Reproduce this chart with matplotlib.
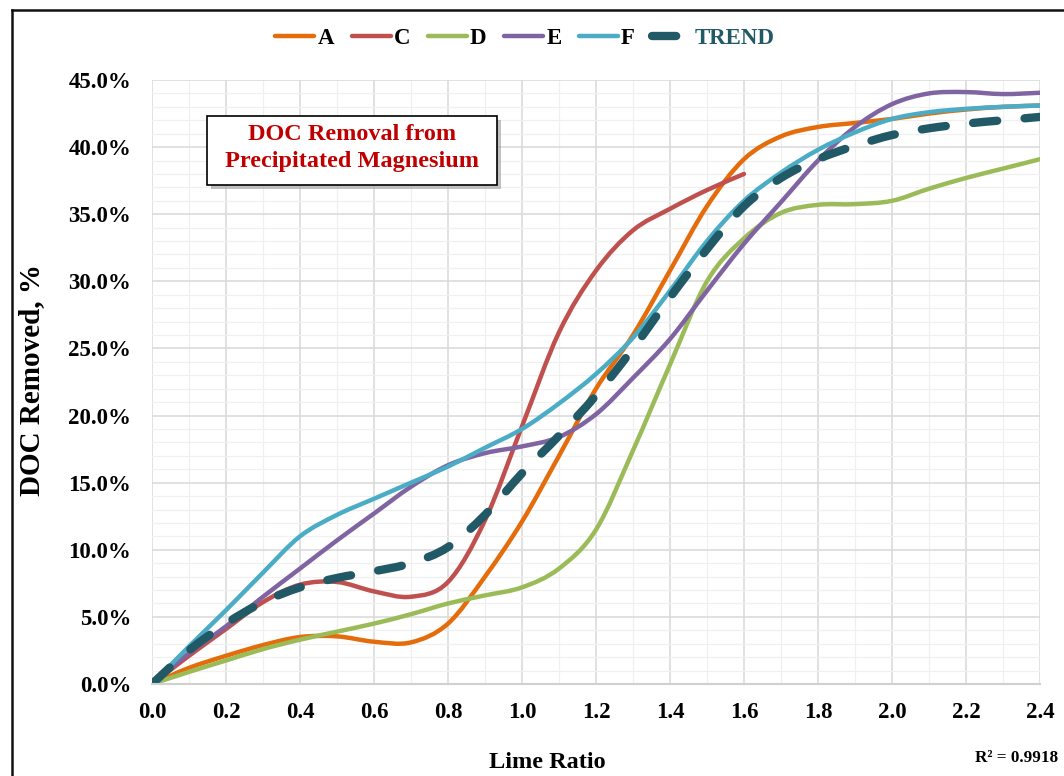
import numpy as np
import matplotlib.pyplot as plt
from matplotlib.path import Path
from matplotlib.patches import PathPatch, Rectangle
from matplotlib.lines import Line2D
from matplotlib.ticker import MultipleLocator, FuncFormatter

plt.rcParams['font.family'] = ['Liberation Serif', 'DejaVu Serif']
plt.rcParams['font.weight'] = 'bold'

# lime ratio readings (every 0.1)
lime = [0.0, 0.1, 0.2, 0.3, 0.4, 0.5, 0.6, 0.7, 0.8, 0.9, 1.0, 1.1, 1.2,
        1.3, 1.4, 1.5, 1.6, 1.7, 1.8, 1.9, 2.0, 2.1, 2.2, 2.3, 2.4]

doc_a = [0.0, 1.2, 2.1, 2.9, 3.5, 3.55, 3.15, 3.1, 4.5, 8.0, 12.1, 17.0, 22.0,
         26.0, 30.8, 35.6, 39.1, 40.8, 41.5, 41.8, 42.1, 42.5, 42.8, 43.0, 43.1]
doc_c = [0.0, 2.1, 4.1, 6.1, 7.4, 7.6, 6.9, 6.5, 7.6, 12.2, 19.2, 26.2, 30.8,
         33.8, 35.4, 36.8, 38.0]
doc_d = [0.0, 0.9, 1.75, 2.6, 3.3, 3.9, 4.5, 5.2, 6.0, 6.6, 7.2, 8.6, 11.5,
         17.4, 23.8, 30.0, 33.2, 35.1, 35.7, 35.75, 36.0, 36.9, 37.7, 38.4, 39.1]
doc_e = [0.0, 2.3, 4.3, 6.5, 8.6, 10.7, 12.7, 14.7, 16.3, 17.2, 17.7, 18.4, 20.1,
         22.8, 25.7, 29.3, 32.8, 35.9, 39.0, 41.5, 43.2, 44.0, 44.1, 43.95, 44.05]
doc_f = [0.0, 2.8, 5.5, 8.3, 11.0, 12.6, 13.8, 15.0, 16.2, 17.6, 19.0, 20.9, 23.1,
         25.8, 29.3, 33.0, 36.0, 38.1, 39.8, 41.1, 42.1, 42.6, 42.85, 43.0, 43.1]
trend = [0.0, 2.5, 4.5, 6.1, 7.2, 7.9, 8.4, 9.0, 10.2, 12.6, 15.7, 18.5, 21.5,
         25.0, 28.8, 32.4, 35.6, 37.7, 39.1, 40.1, 40.9, 41.4, 41.75, 42.0, 42.25]

series = [("A", doc_a, "#E46C0A"), ("C", doc_c, "#C0504D"), ("D", doc_d, "#9BBB59"),
          ("E", doc_e, "#8064A2"), ("F", doc_f, "#4BACC6")]
trend_color = "#215967"
r2_text = "R\u00b2 = 0.9918"

LW = 3.2
TREND_LW = 6.0
TREND_DASH = (0, (2.9, 3.3))


def smooth_path(xs, ys):
    # excel-like smoothed line: catmull-rom segments as cubic beziers
    pts = np.column_stack([xs, ys]).astype(float)
    n = len(pts)
    verts = [pts[0]]
    codes = [Path.MOVETO]
    for i in range(n - 1):
        p0 = pts[i - 1] if i > 0 else pts[i]
        p1, p2 = pts[i], pts[i + 1]
        p3 = pts[i + 2] if i + 2 < n else pts[i + 1]
        verts += [p1 + (p2 - p0) / 6, p2 - (p3 - p1) / 6, p2]
        codes += [Path.CURVE4] * 3
    return Path(verts, codes)


W, H = 1064, 776
fig = plt.figure(figsize=(W / 100, H / 100), dpi=100)
ax = fig.add_axes([152 / W, 92 / H, 888 / W, 604 / H])

ax.set_xlim(0, 2.4)
ax.set_ylim(0, 45)
ax.xaxis.set_major_locator(MultipleLocator(0.2))
ax.xaxis.set_minor_locator(MultipleLocator(0.1))
ax.yaxis.set_major_locator(MultipleLocator(5))
ax.yaxis.set_minor_locator(MultipleLocator(1))
ax.yaxis.set_major_formatter(FuncFormatter(lambda v, p: f"{v:.1f}%"))
ax.xaxis.set_major_formatter(FuncFormatter(lambda v, p: f"{v:.1f}"))
ax.grid(which='major', color='#D9D9D9', lw=1.1)
ax.grid(which='minor', color='#F0F0F0', lw=0.9)
ax.set_axisbelow(True)
ax.tick_params(which='both', length=0)
ax.tick_params(axis='y', labelsize=16.5, pad=15)
ax.tick_params(axis='x', labelsize=16.5, pad=13)
for s in ax.spines.values():
    s.set_visible(False)
ax.spines['bottom'].set_visible(True)
ax.spines['bottom'].set_color('#D0D0D0')
ax.spines['bottom'].set_linewidth(1.5)

for name, vals, col in series:
    ax.add_patch(PathPatch(smooth_path(lime[:len(vals)], vals), fill=False,
                           edgecolor=col, lw=LW, capstyle='round', joinstyle='round'))
ax.add_patch(PathPatch(smooth_path(lime, trend), fill=False, edgecolor=trend_color,
                       lw=TREND_LW, linestyle=TREND_DASH, capstyle='round',
                       joinstyle='round'))

handles = [Line2D([], [], color=c, lw=LW, solid_capstyle='round') for _, _, c in series]
handles.append(Line2D([], [], color=trend_color, lw=TREND_LW, linestyle=TREND_DASH,
                      dash_capstyle='round'))
labels = [n for n, _, _ in series] + ["TREND"]
leg = fig.legend(handles, labels, loc='center', bbox_to_anchor=(525 / W, 1 - 38 / H),
                 ncol=6, frameon=False, fontsize=16.5, handlelength=1.7,
                 handletextpad=0.15, columnspacing=0.75)
leg.get_texts()[-1].set_color(trend_color)

fig.text(547 / W, 1 - 762 / H, "Lime Ratio", ha='center', va='center', fontsize=17.5)
fig.text(32 / W, 1 - 380 / H, "DOC Removed, %", ha='center', va='center',
         rotation=90, fontsize=21)
fig.text(1017 / W, 1 - 758 / H, r2_text, ha='center', va='center', fontsize=12.3)

# title box with shadow
bx0, by0, bx1, by1 = 207, 116, 497, 185
fig.add_artist(Rectangle(((bx0 + 4) / W, 1 - (by1 + 4) / H), (bx1 - bx0) / W,
                         (by1 - by0) / H, transform=fig.transFigure,
                         fc='#9A9A9A', ec='none', alpha=0.6))
fig.add_artist(Rectangle((bx0 / W, 1 - by1 / H), (bx1 - bx0) / W, (by1 - by0) / H,
                         transform=fig.transFigure, fc='white', ec='black', lw=1.2))
fig.text((bx0 + bx1) / 2 / W, 1 - 148 / H, "DOC Removal from\nPrecipitated Magnesium",
         ha='center', va='center', color='#C00000', fontsize=17.5, linespacing=1.38)

# outer chart frame (cropped at right and bottom)
fig.add_artist(Line2D([12 / W, 12 / W], [0, 1 - 10 / H], transform=fig.transFigure,
                      color='#111111', lw=1.8))
fig.add_artist(Line2D([12 / W, 1], [1 - 10 / H, 1 - 10 / H], transform=fig.transFigure,
                      color='#111111', lw=1.8))

fig.savefig("out.png", dpi=100)
